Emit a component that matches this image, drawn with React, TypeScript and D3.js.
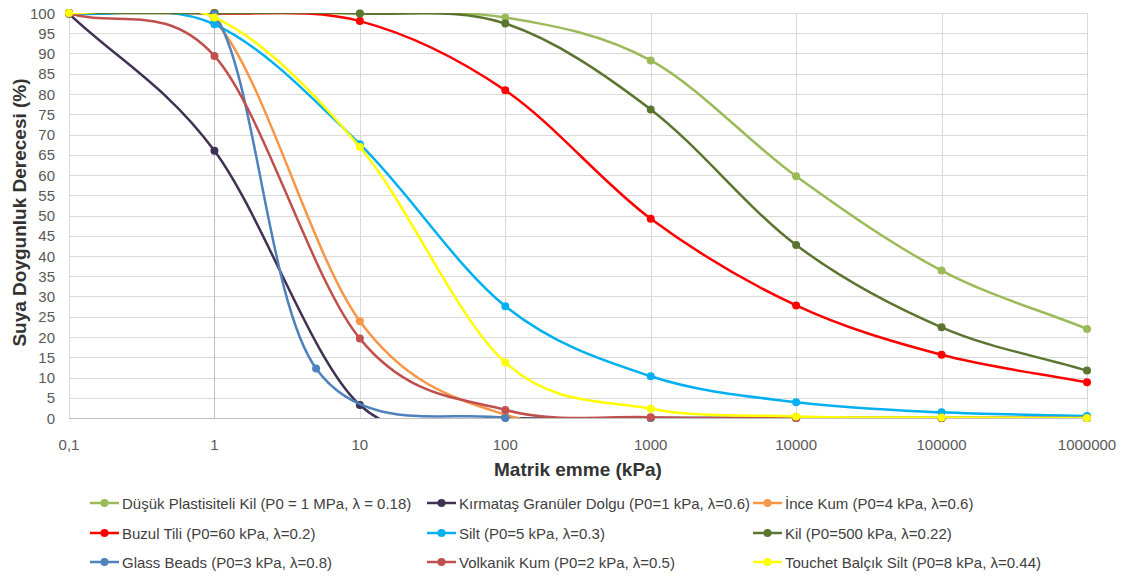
import React from 'react';
import * as d3 from 'd3';

// Matric suction (kPa) at which each curve is sampled
const suctionDecades = [0.1, 1, 10, 100, 1000, 10000, 100000, 1000000];
const suctionGlassBeads = [0.1, 1, 5, 100, 1000, 10000, 100000, 1000000];

// Degree of saturation (%) for each soil
const dusukPlastisiteliKil = [100, 100, 99.9, 98.9, 88.3, 59.7, 36.4, 22.0];
const kirmatasGranulerDolgu = [99.8, 66.0, 3.2, 0.1, 0, 0, 0, 0];
const inceKum = [100, 98.2, 23.9, 0.8, 0, 0, 0, 0];
const buzulTili = [100, 99.9, 98.0, 80.9, 49.2, 27.8, 15.6, 8.8];
const silt = [99.9, 97.2, 67.6, 27.6, 10.3, 3.9, 1.4, 0.5];
const kil = [100, 100, 99.9, 97.4, 76.2, 42.7, 22.4, 11.7];
const glassBeads = [100, 99.7, 12.2, 0, 0, 0, 0, 0];
const volkanikKum = [99.9, 89.4, 19.6, 2.0, 0.2, 0, 0, 0];
const touchetBalcikSilt = [100, 98.9, 66.9, 13.7, 2.3, 0.4, 0.1, 0];

const seriesNames = [
  'Düşük Plastisiteli Kil (P0 = 1 MPa, λ = 0.18)',
  'Kırmataş Granüler Dolgu (P0=1 kPa, λ=0.6)',
  'İnce Kum (P0=4 kPa, λ=0.6)',
  'Buzul Tili (P0=60 kPa, λ=0.2)',
  'Silt (P0=5 kPa, λ=0.3)',
  'Kil (P0=500 kPa, λ=0.22)',
  'Glass Beads (P0=3 kPa, λ=0.8)',
  'Volkanik Kum (P0=2 kPa, λ=0.5)',
  'Touchet Balçık Silt (P0=8 kPa, λ=0.44)',
];
const seriesColors = [
  '#9BBB59', '#403152', '#F79646',
  '#FF0000', '#00B0F0', '#5B7530',
  '#4F81BD', '#C0504D', '#FFFF00',
];
const seriesX = [
  suctionDecades, suctionDecades, suctionDecades,
  suctionDecades, suctionDecades, suctionDecades,
  suctionGlassBeads, suctionDecades, suctionDecades,
];
const seriesY = [
  dusukPlastisiteliKil, kirmatasGranulerDolgu, inceKum,
  buzulTili, silt, kil,
  glassBeads, volkanikKum, touchetBalcikSilt,
];

const xTickValues = [0.1, 1, 10, 100, 1000, 10000, 100000, 1000000];
const xTickLabels = ['0,1', '1', '10', '100', '1000', '10000', '100000', '1000000'];
const yTickValues = [0, 5, 10, 15, 20, 25, 30, 35, 40, 45, 50, 55, 60, 65, 70, 75, 80, 85, 90, 95, 100];

const xTitle = 'Matrik emme (kPa)';
const yTitle = 'Suya Doygunluk Derecesi (%)';

const W = 1128;
const H = 581;
const plot = { left: 69, right: 1087, top: 13, bottom: 418 };
const legendCols = [90, 427, 753];
const legendRows = [503, 533, 562];
const FONT = '"Liberation Sans", Arial, sans-serif';

type Pt = [number, number];

// Snap a 1px rule onto the pixel grid so it renders crisp.
const crisp = (v: number) => Math.round(v) + 0.5;

// Spreadsheet-style smoothed line: cubic Béziers with Catmull-Rom tangents;
// the end points get a mirrored phantom neighbour.
function smoothPath(pts: Pt[]): string {
  const n = pts.length;
  const path = d3.path();
  if (!n) return '';
  const at = (i: number): Pt => {
    if (i < 0) return [2 * pts[0][0] - pts[1][0], 2 * pts[0][1] - pts[1][1]];
    if (i > n - 1) return [2 * pts[n - 1][0] - pts[n - 2][0], 2 * pts[n - 1][1] - pts[n - 2][1]];
    return pts[i];
  };
  const tangents = pts.map((_, i) => {
    const a = at(i - 1);
    const b = at(i + 1);
    return [(b[0] - a[0]) / 6, (b[1] - a[1]) / 6] as Pt;
  });
  path.moveTo(pts[0][0], pts[0][1]);
  for (let i = 0; i < n - 1; i++) {
    const a = pts[i];
    const b = pts[i + 1];
    const ta = tangents[i];
    const tb = tangents[i + 1];
    path.bezierCurveTo(a[0] + ta[0], a[1] + ta[1], b[0] - tb[0], b[1] - tb[1], b[0], b[1]);
  }
  return path.toString();
}

export default function App() {
  const x = d3.scaleLog().domain([0.1, 1000000]).range([plot.left, plot.right]);
  const y = d3.scaleLinear().domain([0, 100]).range([plot.bottom, plot.top]);

  const series = seriesNames.map((name, i) => ({
    name,
    color: seriesColors[i],
    points: seriesX[i].map((sx, j) => [sx, seriesY[i][j]] as Pt),
  }));

  return (
    <svg
      width={W}
      height={H}
      style={{ position: 'absolute', left: 0, top: 0, background: '#fff' }}
      fontFamily={FONT}
    >
      <defs>
        <clipPath id="plot-area">
          <rect x={plot.left} y={plot.top} width={plot.right - plot.left} height={plot.bottom - plot.top} />
        </clipPath>
      </defs>

      {/* gridlines */}
      <g stroke="#D9D9D9" strokeWidth={1}>
        {yTickValues.map((v) => (
          <line key={'h' + v} x1={plot.left} x2={plot.right} y1={crisp(y(v))} y2={crisp(y(v))} />
        ))}
        {xTickValues.map((v) => (
          <line key={'v' + v} x1={crisp(x(v))} x2={crisp(x(v))} y1={plot.top} y2={plot.bottom} />
        ))}
      </g>

      {/* axis lines: value axis crosses at 1 kPa */}
      <g stroke="#BFBFBF" strokeWidth={1}>
        <line x1={plot.left} x2={plot.right} y1={crisp(y(0))} y2={crisp(y(0))} />
        <line x1={crisp(x(1))} x2={crisp(x(1))} y1={plot.top} y2={plot.bottom} />
      </g>

      {/* tick labels */}
      <g fill="#595959" fontSize={15}>
        {yTickValues.map((v) => (
          <text key={'yl' + v} x={55} y={y(v)} textAnchor="end" dominantBaseline="central">
            {v}
          </text>
        ))}
        {xTickValues.map((v, i) => (
          <text key={'xl' + v} x={x(v)} y={444} textAnchor="middle" dominantBaseline="central">
            {xTickLabels[i]}
          </text>
        ))}
      </g>

      {/* axis titles */}
      <text
        x={(plot.left + plot.right) / 2}
        y={469}
        textAnchor="middle"
        dominantBaseline="central"
        fontSize={19}
        fontWeight="bold"
        fill="#333333"
      >
        {xTitle}
      </text>
      <text
        transform={`translate(19, ${(plot.top + plot.bottom) / 2 - 3}) rotate(-90)`}
        textAnchor="middle"
        dominantBaseline="central"
        fontSize={19}
        fontWeight="bold"
        fill="#333333"
      >
        {yTitle}
      </text>

      {/* series */}
      {series.map((s) => (
        <g key={s.name}>
          <path
            d={smoothPath(s.points.map((p) => [x(p[0]), y(p[1])] as Pt))}
            fill="none"
            stroke={s.color}
            strokeWidth={2.5}
            clipPath="url(#plot-area)"
          />
          {s.points.map((p, j) => (
            <circle key={j} cx={x(p[0])} cy={y(p[1])} r={4} fill={s.color} />
          ))}
        </g>
      ))}

      {/* legend */}
      <g fontSize={15} fill="#404040">
        {series.map((s, i) => {
          const lx = legendCols[i % 3];
          const ly = legendRows[Math.floor(i / 3)];
          return (
            <g key={'lg' + i}>
              <line x1={lx} x2={lx + 29} y1={ly} y2={ly} stroke={s.color} strokeWidth={2.5} />
              <circle cx={lx + 14.5} cy={ly} r={4} fill={s.color} />
              <text x={lx + 32} y={ly} dominantBaseline="central">
                {s.name}
              </text>
            </g>
          );
        })}
      </g>
    </svg>
  );
}
